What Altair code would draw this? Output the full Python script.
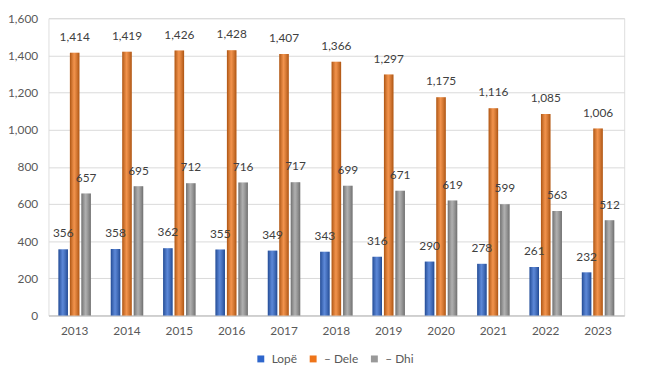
import altair as alt
import pandas as pd

years = ["2013", "2014", "2015", "2016", "2017", "2018", "2019", "2020", "2021", "2022", "2023"]
series = ["Lopë", "– Dele", "– Dhi"]
lope = [356, 358, 362, 355, 349, 343, 316, 290, 278, 261, 232]
dele = [1414, 1419, 1426, 1428, 1407, 1366, 1297, 1175, 1116, 1085, 1006]
dhi = [657, 695, 712, 716, 717, 699, 671, 619, 599, 563, 512]
colors = ["#2E66CC", "#EE7419", "#999999"]

rows = []
for i, y in enumerate(years):
    for s, vals in zip(series, [lope, dele, dhi]):
        rows.append({"year": y, "series": s, "value": vals[i]})
df = pd.DataFrame(rows)

FONT = "Lato"
W, H = 583, 301
PAD = {"left": 41, "top": 8, "right": 18, "bottom": 66}

x = alt.X("year:O", title=None,
          scale=alt.Scale(paddingInner=0.38, paddingOuter=0.19),
          axis=alt.Axis(labelAngle=0, ticks=False, domain=True, domainColor="#BFBFBF",
                        labelPadding=10, labelFontSize=12, labelColor="#595959", labelFont=FONT))
xo = alt.XOffset("series:N", sort=series,
                 scale=alt.Scale(domain=series, paddingInner=0.17, paddingOuter=0))
y = alt.Y("value:Q", title=None,
          scale=alt.Scale(domain=[0, 1600]),
          axis=alt.Axis(values=list(range(0, 1601, 200)), format=",.0f", ticks=False, domain=False,
                        gridColor="#D9D9D9", labelPadding=11, labelFontSize=12,
                        labelColor="#595959", labelFont=FONT))

base = alt.Chart(df)

bars = base.mark_bar().encode(
    x=x, xOffset=xo, y=y,
    color=alt.Color("series:N", sort=series,
                    scale=alt.Scale(domain=series, range=colors),
                    legend=alt.Legend(title=None, orient="none", direction="horizontal",
                                      legendX=209, legendY=339, symbolType="square",
                                      symbolSize=49, labelFontSize=12, labelColor="#595959",
                                      labelFont=FONT, columnPadding=10, labelOffset=5)),
)

shade = base.mark_bar(fill={
    "gradient": "linear", "x1": 0, "x2": 1, "y1": 0, "y2": 0,
    "stops": [
        {"offset": 0, "color": "rgba(0,0,0,0.28)"},
        {"offset": 0.45, "color": "rgba(255,255,255,0.22)"},
        {"offset": 1, "color": "rgba(0,0,0,0.28)"},
    ],
}).encode(x=x, xOffset=xo, y=y)

labels = base.mark_text(baseline="bottom", dy=-9, fontSize=12, color="#404040", font=FONT).encode(
    x=x, xOffset=xo, y=y, text=alt.Text("value:Q", format=",")
)

chart = alt.layer(bars, shade, labels).properties(
    width=W, height=H,
    autosize=alt.AutoSizeParams(type="none"),
    padding=PAD,
).configure_view(stroke=None).configure(background="white")

chart.save("out.html", embed_options={"renderer": "svg", "actions": False})
